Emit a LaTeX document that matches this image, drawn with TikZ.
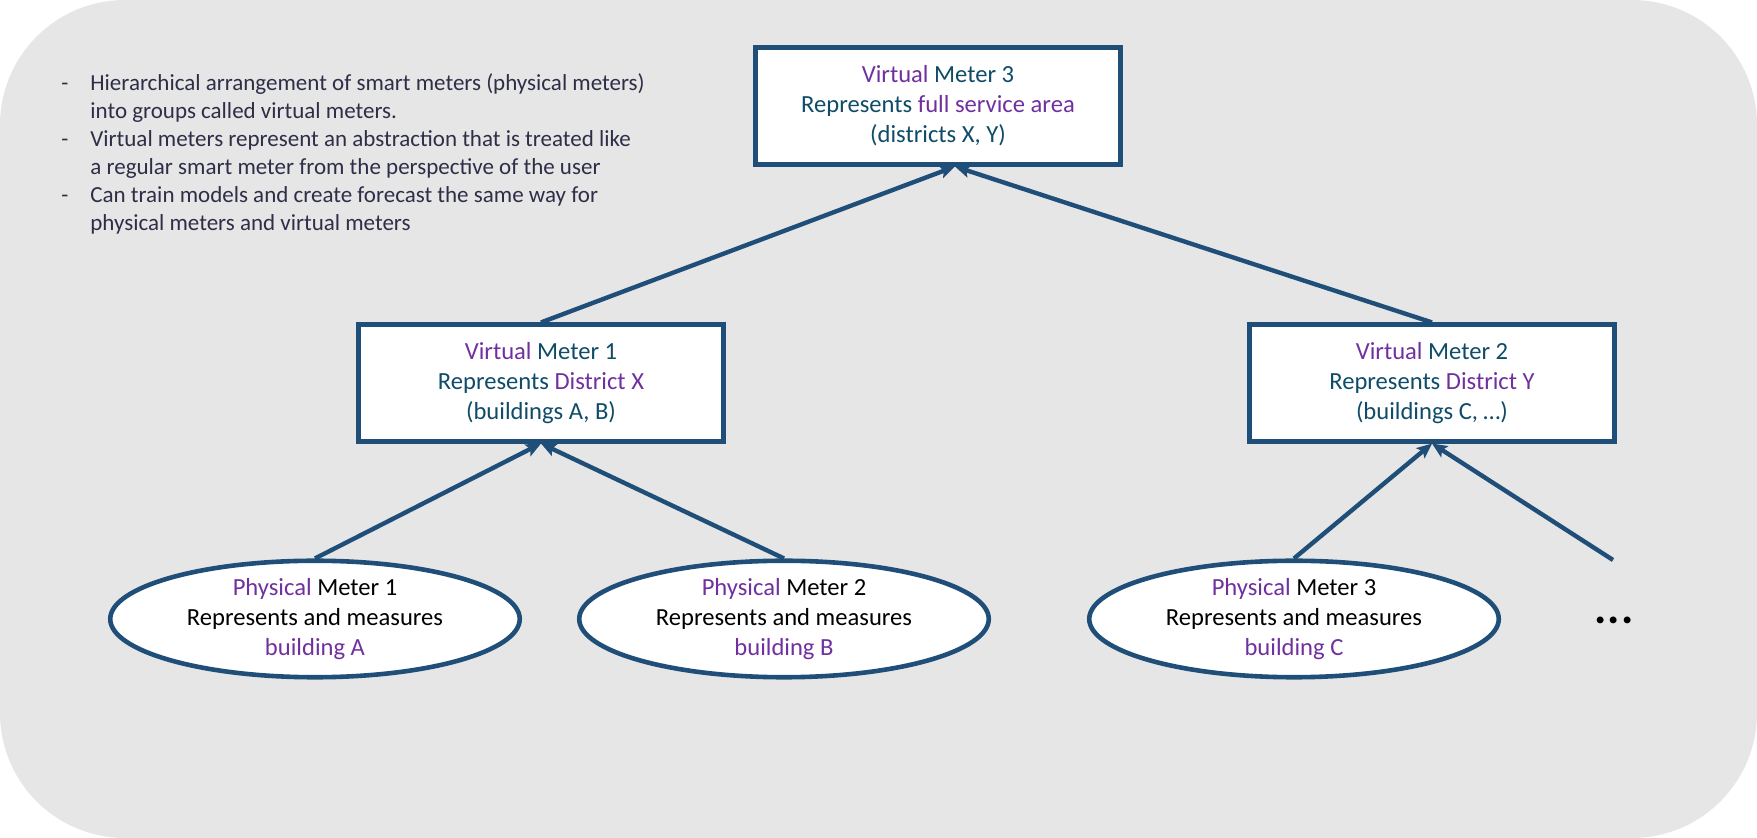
\documentclass[tikz,border=0pt]{standalone}
\usepackage{fontspec}
\setmainfont{Carlito}
\usetikzlibrary{shapes.geometric,arrows.meta}
\definecolor{frameblue}{HTML}{1F4E79}
\definecolor{tealtext}{HTML}{0F4C68}
\definecolor{meterpurple}{HTML}{7030A0}
\definecolor{panelgray}{HTML}{E6E6E6}
\definecolor{notegray}{HTML}{2E2E48}
\newcommand{\purp}[1]{\textcolor{meterpurple}{#1}}
\begin{document}
\begin{tikzpicture}[x=0.5pt, y=-0.5pt,
  vmeter/.style={draw=frameblue, line width=2.3pt, fill=white, minimum width=182.75pt, minimum height=58.25pt, inner sep=0pt, align=center, text=tealtext, font=\fontsize{12.3}{15}\selectfont},
  pmeter/.style={ellipse, draw=frameblue, line width=2.3pt, fill=white, minimum width=204.75pt, minimum height=58.25pt, inner sep=0pt, align=center, text=black, font=\fontsize{12.3}{15}\selectfont},
  link/.style={-{Stealth[length=7.5pt,width=6.5pt,inset=1.5pt]}, line width=2.2pt, draw=frameblue}]
\useasboundingbox (0,0) rectangle (1757,838);
\fill[panelgray, rounded corners=62.5pt] (0,0) rectangle (1757,838);
% notes
\node[anchor=north west, align=left, inner sep=0pt, text=notegray, font=\fontsize{11.5}{14}\selectfont] (notes) at (61,73) {%
\makebox[14.5pt][l]{-}Hierarchical arrangement of smart meters (physical meters)\\
\hspace*{14.5pt}into groups called virtual meters.\\
\makebox[14.5pt][l]{-}Virtual meters represent an abstraction that is treated like\\
\hspace*{14.5pt}a regular smart meter from the perspective of the user\\
\makebox[14.5pt][l]{-}Can train models and create forecast the same way for\\
\hspace*{14.5pt}physical meters and virtual meters};
% virtual meters
\node[vmeter] (vm3) at (938,106) {\purp{Virtual} Meter 3\\Represents \purp{full service area}\\(districts X, Y)};
\node[vmeter] (vm1) at (541,383) {\purp{Virtual} Meter 1\\Represents \purp{District X}\\(buildings A, B)};
\node[vmeter] (vm2) at (1432,383) {\purp{Virtual} Meter 2\\Represents \purp{District Y}\\(buildings C, …)};
% physical meters
\node[pmeter] (pm1) at (315,619) {\purp{Physical} Meter 1\\Represents and measures\\\purp{building A}};
\node[pmeter] (pm2) at (784,619) {\purp{Physical} Meter 2\\Represents and measures\\\purp{building B}};
\node[pmeter] (pm3) at (1294,619) {\purp{Physical} Meter 3\\Represents and measures\\\purp{building C}};
\node[inner sep=0pt, font=\bfseries\fontsize{23}{23}\selectfont] (more) at (1614,620) {.\kern0.6pt.\kern0.6pt.};
\coordinate (tail) at (1613,560);
% connectors
\path (pm1.north) edge[link] (vm1.south);
\path (pm2.north) edge[link] (vm1.south);
\path (pm3.north) edge[link] (vm2.south);
\path (tail) edge[link] (vm2.south);
\path (vm1.north) edge[link] ([xshift=8.5pt]vm3.south);
\path (vm2.north) edge[link] ([xshift=8.5pt]vm3.south);
\end{tikzpicture}
\end{document}
